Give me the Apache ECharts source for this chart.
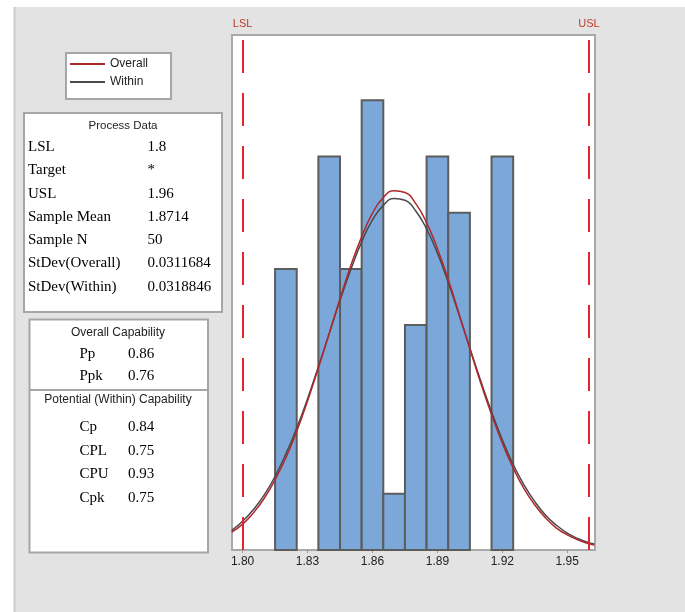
<!DOCTYPE html>
<html>
<head>
<meta charset="utf-8">
<script src="https://cdn.jsdelivr.net/npm/echarts@6/dist/echarts.min.js"></script>
<style>
  html, body { margin: 0; padding: 0; background: #fff; }
  #chart { width: 685px; height: 612px; }
</style>
</head>
<body>
<div id="chart"></div>
<script>
// histogram bins (width 0.01) and counts, N = 50
const binCenters = [1.82, 1.84, 1.85, 1.86, 1.87, 1.88, 1.89, 1.90, 1.92]
const binCounts = [5, 7, 5, 8, 1, 4, 7, 6, 7]
const binWidth = 0.01

// fitted curves, in counts per bin
const curveX = [1.795, 1.800, 1.805, 1.810, 1.815, 1.820, 1.825, 1.830, 1.835, 1.840,
  1.845, 1.850, 1.855, 1.860, 1.865, 1.870, 1.875, 1.880, 1.885, 1.890, 1.895, 1.900,
  1.905, 1.910, 1.915, 1.920, 1.925, 1.930, 1.935, 1.940, 1.945, 1.950, 1.955, 1.960, 1.9625]
const overallFit = [0.32, 0.46, 0.66, 0.92, 1.25, 1.64, 2.11, 2.65, 3.24, 3.85,
  4.47, 5.06, 5.57, 5.99, 6.27, 6.39, 6.36, 6.16, 5.82, 5.36, 4.81, 4.20,
  3.58, 2.97, 2.41, 1.90, 1.46, 1.09, 0.80, 0.57, 0.39, 0.27, 0.18, 0.11, 0.09]
const withinFit = [0.35, 0.51, 0.72, 0.98, 1.31, 1.71, 2.17, 2.69, 3.26, 3.85,
  4.44, 4.99, 5.48, 5.87, 6.13, 6.25, 6.22, 6.03, 5.71, 5.28, 4.76, 4.18,
  3.59, 3.01, 2.46, 1.96, 1.52, 1.16, 0.86, 0.62, 0.44, 0.30, 0.20, 0.13, 0.11]

const tickValues = [1.80, 1.83, 1.86, 1.89, 1.92, 1.95]
const tickLabels = ['1.80', '1.83', '1.86', '1.89', '1.92', '1.95']

const specNames = ['LSL', 'USL']
const specValues = [1.8, 1.96]

const processLabels = ['LSL', 'Target', 'USL', 'Sample Mean', 'Sample N', 'StDev(Overall)', 'StDev(Within)']
const processValues = ['1.8', '*', '1.96', '1.8714', '50', '0.0311684', '0.0318846']
const overallLabels = ['Pp', 'Ppk']
const overallValues = ['0.86', '0.76']
const withinLabels = ['Cp', 'CPL', 'CPU', 'Cpk']
const withinValues = ['0.84', '0.75', '0.93', '0.75']

const sans = '"Liberation Sans", Arial, sans-serif'
const serif = '"Liberation Serif", "Times New Roman", serif'

function txt (text, x, y, opts) {
  return {
    type: 'text',
    style: Object.assign({
      text: text,
      x: x,
      y: y,
      fill: '#000',
      fontSize: 15,
      fontFamily: serif,
      textVerticalAlign: 'middle'
    }, opts || {})
  }
}

const graphics = [
  // page edges
  { type: 'rect', shape: { x: 0, y: 0, width: 685, height: 7 }, style: { fill: '#fff' } },
  { type: 'rect', shape: { x: 0, y: 0, width: 14, height: 612 }, style: { fill: '#fff' } },
  { type: 'line', shape: { x1: 14.5, y1: 7, x2: 14.5, y2: 612 }, style: { stroke: '#cdcdcd', lineWidth: 2 } },
  // process data box
  { type: 'rect', shape: { x: 24, y: 113, width: 198, height: 199 }, style: { fill: '#fff', stroke: '#a6a6a6', lineWidth: 2 } },
  txt('Process Data', 123, 126, { fontFamily: sans, fontSize: 11.5, textAlign: 'center', fill: '#222' }),
  // capability box
  { type: 'rect', shape: { x: 29.5, y: 319.5, width: 178.5, height: 233 }, style: { fill: '#fff', stroke: '#a6a6a6', lineWidth: 2 } },
  { type: 'line', shape: { x1: 29.5, y1: 390, x2: 208, y2: 390 }, style: { stroke: '#a6a6a6', lineWidth: 2 } },
  txt('Overall Capability', 118, 333, { fontFamily: sans, fontSize: 12, textAlign: 'center', fill: '#222' }),
  txt('Potential (Within) Capability', 118, 399.5, { fontFamily: sans, fontSize: 12, textAlign: 'center', fill: '#222' })
]

processLabels.forEach(function (label, i) {
  graphics.push(txt(label, 28, 147 + i * 23.3))
  graphics.push(txt(processValues[i], 147.5, 147 + i * 23.3))
})
overallLabels.forEach(function (label, i) {
  graphics.push(txt(label, 79.5, 354 + i * 22))
  graphics.push(txt(overallValues[i], 128, 354 + i * 22))
})
withinLabels.forEach(function (label, i) {
  graphics.push(txt(label, 79.5, 427 + i * 23.6))
  graphics.push(txt(withinValues[i], 128, 427 + i * 23.6))
})

const chart = echarts.init(document.getElementById('chart'))
chart.setOption({
  backgroundColor: '#e3e3e3',
  animation: false,
  graphic: graphics,
  legend: {
    data: ['Overall', 'Within'],
    orient: 'vertical',
    left: 66,
    top: 53,
    backgroundColor: '#fff',
    borderColor: '#a6a6a6',
    borderWidth: 2,
    padding: [5, 23, 11, 4],
    itemGap: 6,
    itemWidth: 35,
    itemHeight: 2,
    itemTextGap: 7,
    icon: 'rect',
    selectedMode: false,
    textStyle: { fontSize: 12, lineHeight: 12, fontFamily: sans, color: '#222' }
  },
  grid: {
    left: 232,
    top: 35,
    width: 363,
    height: 515,
    show: true,
    backgroundColor: '#fff',
    borderColor: '#a9a9a9',
    borderWidth: 2
  },
  xAxis: {
    type: 'value',
    min: 1.7951,
    max: 1.9628,
    splitLine: { show: false },
    axisLine: { show: false },
    axisTick: {
      customValues: tickValues,
      length: 3,
      lineStyle: { color: '#999' }
    },
    axisLabel: {
      customValues: tickValues,
      margin: 6,
      fontSize: 12,
      fontFamily: sans,
      color: '#222',
      formatter: function (v) {
        const i = tickValues.findIndex(function (t) { return Math.abs(t - v) < 1e-9 })
        return i >= 0 ? tickLabels[i] : ''
      }
    }
  },
  yAxis: {
    type: 'value',
    min: 0,
    max: 9.16,
    show: false
  },
  series: [
    {
      name: 'Histogram',
      type: 'custom',
      silent: true,
      encode: { x: [0, 1], y: 2 },
      data: binCenters.map(function (c, i) { return [c - binWidth / 2, c + binWidth / 2, binCounts[i]] }),
      renderItem: function (params, api) {
        const topLeft = api.coord([api.value(0), api.value(2)])
        const bottomRight = api.coord([api.value(1), 0])
        return {
          type: 'rect',
          shape: {
            x: topLeft[0],
            y: topLeft[1],
            width: bottomRight[0] - topLeft[0],
            height: bottomRight[1] - topLeft[1]
          },
          style: { fill: '#7ba7d9', stroke: '#5c5c5c', lineWidth: 2 }
        }
      }
    },
    {
      name: 'Within',
      type: 'line',
      smooth: true,
      symbol: 'none',
      color: '#4a4a4a',
      lineStyle: { width: 1.5, color: '#4a4a4a' },
      data: curveX.map(function (x, i) { return [x, withinFit[i]] })
    },
    {
      name: 'Overall',
      type: 'line',
      smooth: true,
      symbol: 'none',
      color: '#b0282c',
      lineStyle: { width: 1.5, color: '#b0282c' },
      data: curveX.map(function (x, i) { return [x, overallFit[i]] }),
      markLine: {
        silent: true,
        symbol: ['none', 'none'],
        lineStyle: { color: '#e3262e', width: 2, type: [33, 20] },
        label: {
          position: 'end',
          distance: 6,
          color: '#c0392b',
          fontSize: 11,
          fontFamily: sans
        },
        data: specValues.map(function (v, i) {
          return { xAxis: v, label: { formatter: specNames[i] } }
        })
      }
    }
  ]
})
</script>
</body>
</html>
